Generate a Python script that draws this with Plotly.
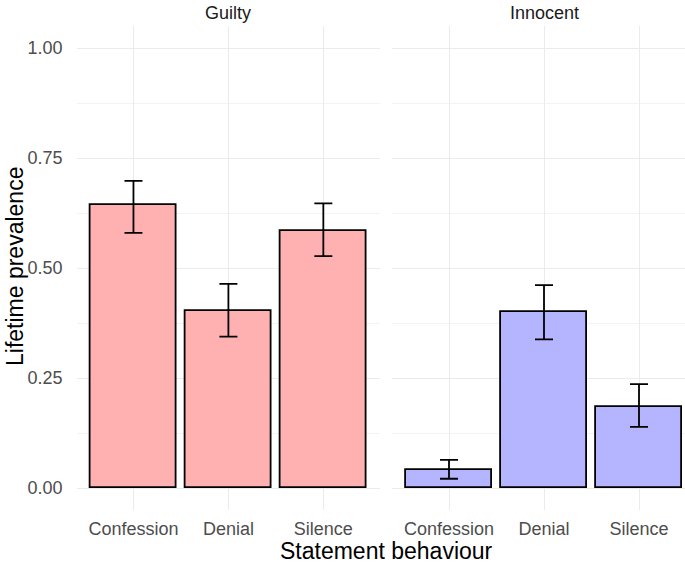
import plotly.graph_objects as go

categories = ["Confession", "Denial", "Silence"]
guilty_vals = [0.643, 0.402, 0.585]
guilty_hi = [0.698, 0.464, 0.647]
guilty_lo = [0.580, 0.344, 0.527]
innocent_vals = [0.042, 0.399, 0.185]
innocent_hi = [0.064, 0.461, 0.236]
innocent_lo = [0.021, 0.338, 0.139]
y_ticks = [0, 0.25, 0.5, 0.75, 1.0]
y_ticklabels = ["0.00", "0.25", "0.50", "0.75", "1.00"]
y_minor = [0.125, 0.375, 0.625, 0.875]

FONT = "Liberation Sans, Arial, sans-serif"
W, H = 685, 563


def fx(px):
    return px / W


def fy(py):
    return 1 - py / H


def bar(vals, hi, lo, color, xa, ya):
    return go.Bar(
        x=categories, y=vals, width=0.9, xaxis=xa, yaxis=ya,
        marker=dict(color=color, line=dict(color="black", width=1.8)),
        error_y=dict(type="data", symmetric=False,
                     array=[h - v for h, v in zip(hi, vals)],
                     arrayminus=[v - l for v, l in zip(vals, lo)],
                     color="black", thickness=1.8, width=9),
        showlegend=False, hoverinfo="skip")


fig = go.Figure()
fig.add_trace(bar(guilty_vals, guilty_hi, guilty_lo, "#FFB0B0", "x", "y"))
fig.add_trace(bar(innocent_vals, innocent_hi, innocent_lo, "#B4B4FF", "x2", "y2"))

y_top = fy(26)
y_bot = fy(510)

xcommon = dict(showgrid=True, gridcolor="#EBEBEB", gridwidth=1.1, showline=False,
               zeroline=False, ticks="", tickfont=dict(family=FONT, size=18, color="#4D4D4D"),
               ticklabelstandoff=6, automargin=False, categoryorder="array",
               categoryarray=categories)

ycommon = dict(domain=[y_bot, y_top], range=[-0.05, 1.05], tickvals=y_ticks,
               ticktext=y_ticklabels, showgrid=True, gridcolor="#EBEBEB", gridwidth=1.1,
               zeroline=False, showline=False, ticks="",
               tickfont=dict(family=FONT, size=18, color="#4D4D4D"),
               ticklabelstandoff=13, automargin=False,
               minor=dict(showgrid=True, gridcolor="#F3F3F3", gridwidth=0.6,
                          tickvals=y_minor))

fig.update_layout(
    width=W, height=H,
    margin=dict(l=0, r=0, t=0, b=0),
    paper_bgcolor="white", plot_bgcolor="white",
    bargap=0,
    xaxis=dict(domain=[fx(76.5), fx(380.3)], range=[-0.6, 2.6], anchor="y", **xcommon),
    xaxis2=dict(domain=[fx(392), 1.0], range=[-0.6, 2.6 - 11 / 95], anchor="y2", **xcommon),
    yaxis=dict(anchor="x", **ycommon),
    yaxis2=dict(anchor="x2", showticklabels=False, **ycommon),
)

annotations = [
    dict(text="Guilty", x=fx((76.5 + 380.3) / 2), y=fy(13), xref="paper", yref="paper",
         showarrow=False, xanchor="center", yanchor="middle",
         font=dict(family=FONT, size=18, color="#1A1A1A")),
    dict(text="Innocent", x=fx((392 + 696) / 2), y=fy(13), xref="paper", yref="paper",
         showarrow=False, xanchor="center", yanchor="middle",
         font=dict(family=FONT, size=18, color="#1A1A1A")),
    dict(text="Statement behaviour", x=fx((76.5 + 696) / 2), y=fy(551), xref="paper",
         yref="paper", showarrow=False, xanchor="center", yanchor="middle",
         font=dict(family=FONT, size=23, color="black")),
    dict(text="Lifetime prevalence", x=fx(15), y=fy(267), xref="paper", yref="paper",
         showarrow=False, xanchor="center", yanchor="middle", textangle=-90,
         font=dict(family=FONT, size=23, color="black")),
]
fig.update_layout(annotations=annotations)

fig.write_html(
    "out.html",
    config={"displayModeBar": False},
    post_script="document.body.style.margin='0px';document.body.style.overflow='hidden';",
)
